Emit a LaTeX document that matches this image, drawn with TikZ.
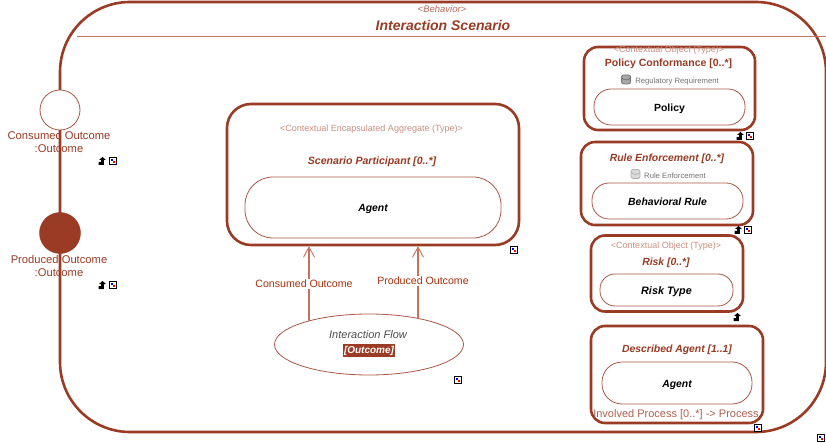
\documentclass[tikz,border=0pt]{standalone}
\usepackage{fontspec}
\setmainfont{Liberation Sans}
\usetikzlibrary{arrows.meta,shapes.geometric,calc}
\definecolor{rust}{HTML}{993B25}
\definecolor{paler}{HTML}{C98F80}
\definecolor{linkc}{HTML}{C8705A}
\definecolor{labc}{HTML}{A8300C}
\newcommand{\fs}[1]{\fontsize{#1}{#1}\selectfont}
\newcommand{\nav}[1]{\fill[black] ($(#1)+(-3.5,4)$) -- ($(#1)+(-3.5,1)$) -- ($(#1)+(-0.8,1)$) -- ($(#1)+(-0.8,-1)$) -- ($(#1)+(-3,-1)$) -- ($(#1)+(0.5,-4)$) -- ($(#1)+(4,-1)$) -- ($(#1)+(1.8,-1)$) -- ($(#1)+(1.8,4)$) -- cycle;}
\newcommand{\mrk}[1]{\draw[black,fill=white,line width=1pt] ($(#1)+(-3.5,-3.5)$) rectangle ($(#1)+(3.5,3.5)$);
 \fill[blue] ($(#1)+(-2,-2)$) rectangle ($(#1)+(0,0)$);
 \fill[red] ($(#1)+(0,0)$) rectangle ($(#1)+(2,2)$);}
\newcommand{\cyl}[2]{\draw[#2,line width=0.7pt] ($(#1)+(-4.5,-1.5)$) .. controls ($(#1)+(-2,1)$) and ($(#1)+(2,1)$) .. ($(#1)+(4.5,-1.5)$);}
\tikzset{
 outerbox/.style={draw=rust,line width=2.6pt,fill=white,rounded corners=14pt,inner sep=0pt},
 innerbox/.style={draw=rust!85,line width=0.8pt,fill=white,inner sep=0pt},
 plainlab/.style={inner sep=0pt,text=rust},
 stereo/.style={inner sep=0pt,text=paler,font=\fs{9}},
 rolelab/.style={inner sep=0pt,text=rust,font=\fs{10.4}\itshape\bfseries},
 bodylab/.style={inner sep=0pt,text=black,font=\fs{10.4}\itshape\bfseries,yshift=-1.5pt},
 iconlab/.style={inner sep=0pt,text=black!55,font=\fs{7.7}},
 flowlink/.style={draw=linkc,line width=1.2pt,-{Straight Barb[length=10pt,width=11pt,line width=0.9pt]}},
 linklab/.style={inner sep=1.5pt,fill=white,text=labc,font=\fs{10.6}},
}
\begin{document}
\begin{tikzpicture}[x=1pt,y=-1pt]
\useasboundingbox (0,0) rectangle (826,443);
\fill[white] (0,0) rectangle (826,443);
% main behaviour shape
\draw[rust,line width=2.6pt,rounded corners=70pt] (60,2) rectangle (826,432);
\draw[paler!70!rust,line width=1pt] (77,37) -- (826,37);
\node[stereo,text=paler!60!rust,font=\fs{9.5}\itshape] (bhv) at (442,9.5) {<Behavior>};
\node[plainlab,font=\fs{14}\itshape\bfseries] (title) at (443,26) {Interaction Scenario};
% ports
\node[draw=rust!85,line width=0.8pt,fill=white,circle,minimum size=40pt,inner sep=0pt] (cons) at (60,110) {};
\node[draw=rust,fill=rust,circle,minimum size=41pt,inner sep=0pt] (prod) at (60,233) {};
\node[plainlab,font=\fs{11.2},align=center] (conslab) at (59,142) {Consumed Outcome\\[1.8pt]:Outcome};
\node[plainlab,font=\fs{11.2},align=center] (prodlab) at (59,266) {Produced Outcome\\[1.8pt]:Outcome};
% aggregate
\node[outerbox,rounded corners=24pt,minimum width=292pt,minimum height=141pt] (agg) at (373,174.5) {};
\node[stereo] (aggst) at (371.5,129) {<Contextual Encapsulated Aggregate (Type)>};
\node[rolelab,font=\fs{10.6}\itshape\bfseries] (part) at (372,161.5) {Scenario Participant [0..*]};
\node[innerbox,rounded corners=28pt,minimum width=256pt,minimum height=61pt] (agent) at (373,207.5) {};
\node[bodylab] at (agent) {Agent};
% flow
\node[draw=rust!85,line width=0.8pt,fill=white,ellipse,minimum width=189pt,minimum height=61pt,inner sep=0pt] (flow) at (369,344.5) {};
\node[inner sep=0pt,text=black!70,font=\fs{11}\itshape] (flowname) at (368,335) {Interaction Flow};
\node[inner sep=0.8pt,minimum height=13.5pt,fill=rust,text=white,font=\fs{10}\itshape\bfseries] (flowtype) at (369,350.5) {[Outcome]};
\coordinate (fa) at (309,321);
\coordinate (fb) at (418,318.5);
\draw[flowlink] (fa) -- (fa |- agg.south);
\draw[flowlink] (fb) -- (fb |- agg.south);
\node[linklab] (lca) at (304,284) {Consumed Outcome};
\node[linklab] (lcb) at (423,281) {Produced Outcome};
% policy
\node[outerbox,minimum width=171pt,minimum height=83pt] (pc) at (669.5,88.5) {};
\node[stereo] (pcst) at (669,50.5) {<Contextual Object (Type)>};
\node[plainlab,font=\fs{10.5}\bfseries] (pcn) at (668.5,64) {Policy Conformance [0..*]};
\node[draw=black!55,fill=black!35,line width=0.7pt,rounded corners=2pt,minimum width=9pt,minimum height=9pt,inner sep=0pt] (pci) at (626,79.5) {};
\cyl{626,79.5}{black!55}
\node[iconlab] (pcl) at (677,82) {Regulatory Requirement};
\node[innerbox,rounded corners=17pt,minimum width=151pt,minimum height=36pt] (pol) at (669.5,107) {};
\node[inner sep=0pt,text=black,font=\fs{10.4}\bfseries,yshift=-1.5pt] at (pol) {Policy};
% rule
\node[outerbox,minimum width=172pt,minimum height=83pt] (re) at (667,183.5) {};
\node[rolelab] (ren) at (667,158.5) {Rule Enforcement [0..*]};
\node[draw=black!30,fill=black!15,line width=0.7pt,rounded corners=2pt,minimum width=9pt,minimum height=9pt,inner sep=0pt] (rei) at (635.5,174) {};
\cyl{635.5,174}{black!30}
\node[iconlab] (rel) at (675,176) {Rule Enforcement};
\node[innerbox,rounded corners=17pt,minimum width=151pt,minimum height=36pt] (beh) at (667.5,201) {};
\node[bodylab,yshift=1pt] at (beh) {Behavioral Rule};
% risk
\node[outerbox,minimum width=152pt,minimum height=76pt] (rk) at (667,273.5) {};
\node[stereo] (rkst) at (666,246) {<Contextual Object (Type)>};
\node[rolelab] (rkn) at (666,263) {Risk [0..*]};
\node[innerbox,rounded corners=15pt,minimum width=133pt,minimum height=32pt] (rt) at (666.5,290) {};
\node[bodylab,font=\fs{10.8}\itshape\bfseries] at (rt) {Risk Type};
% described agent
\node[outerbox,minimum width=172pt,minimum height=97pt] (da) at (677,374.5) {};
\node[rolelab] (dan) at (677,350) {Described Agent [1..1]};
\node[innerbox,rounded corners=20pt,minimum width=150pt,minimum height=42pt] (dag) at (677,383) {};
\node[bodylab] at (dag) {Agent};
\node[inner sep=0pt,text=rust!80,font=\fs{11}] (inv) at (676,415) {Involved Process [0..*] -> Process};
% markers
\nav{102,161}\mrk{113,161}
\nav{102,285}\mrk{113,285}
\mrk{514,250}
\mrk{458,380}
\nav{740,136}\mrk{750,136}
\nav{738,230}\mrk{748,230}
\nav{737,317}
\mrk{758,428}
\mrk{821,438}
\end{tikzpicture}
\end{document}
